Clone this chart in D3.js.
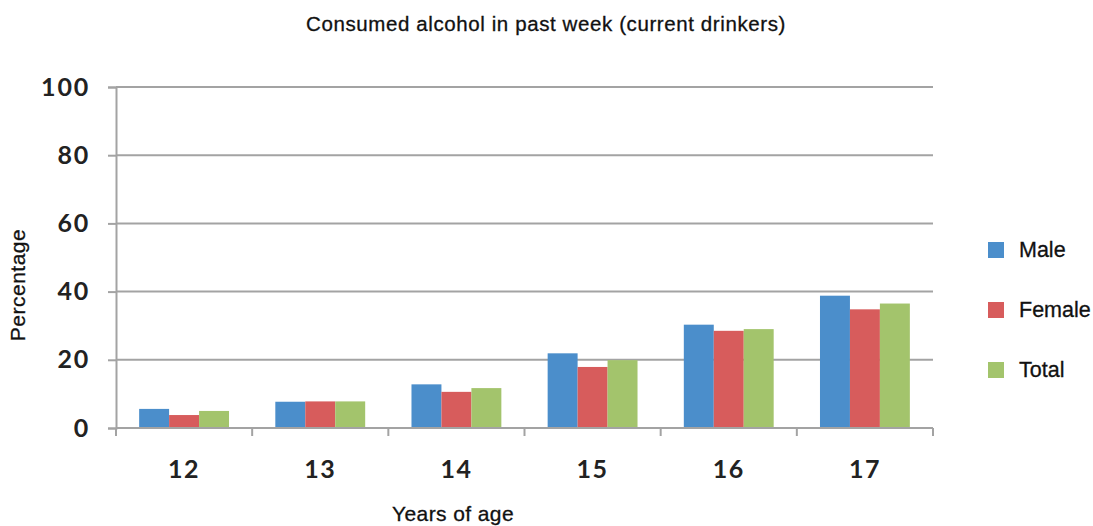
<!DOCTYPE html>
<html><head><meta charset="utf-8">
<script src="https://cdn.jsdelivr.net/npm/d3@7"></script>
<style>body{margin:0;background:#fff}svg{display:block}</style>
</head><body>
<svg id="c" width="1093" height="526"></svg>
<script>
const categories = ["12","13","14","15","16","17"];
const seriesNames = ["Male","Female","Total"];
const male   = [5.6, 7.7, 12.8, 21.9, 30.3, 38.8];
const female = [3.8, 7.8, 10.6, 17.9, 28.5, 34.8];
const total  = [5.0, 7.8, 11.7, 19.9, 29.0, 36.5];
const yTicks = [0,20,40,60,80,100];
const colors = ["#4b8ecb","#d75c5c","#a3c46c"];
const title = "Consumed alcohol in past week (current drinkers)";
const xTitle = "Years of age";
const yTitle = "Percentage";

const values = [male, female, total];
const svg = d3.select("#c");
const L = 116, R = 933, T = 87, B = 428;
const x = d3.scaleBand().domain(categories).range([L, R]).paddingInner(0.34).paddingOuter(0.17);
const xs = d3.scaleBand().domain(seriesNames).range([0, x.bandwidth()]);
const y = d3.scaleLinear().domain([0,100]).range([B, T]);
const grid = "#a3a3a3";
const labFont = "'Liberation Sans', Arial, sans-serif";
const tickFont = "Lato, 'Open Sans', sans-serif";

// gridlines
svg.append("g").selectAll("line").data(yTicks.filter(d=>d>0)).join("line")
  .attr("x1", L).attr("x2", R).attr("y1", d=>y(d)).attr("y2", d=>y(d))
  .attr("stroke", grid).attr("stroke-width", 2);

// y axis
const ya = svg.append("g").attr("transform", `translate(${L},0)`)
  .call(d3.axisLeft(y).tickValues(yTicks).tickSize(8).tickPadding(18));
ya.select(".domain").attr("stroke", grid).attr("stroke-width", 2);
ya.selectAll(".tick line").attr("stroke", grid).attr("stroke-width", 2);
ya.selectAll("text").attr("font-family", tickFont).attr("font-weight","bold")
  .attr("font-size", 25).attr("letter-spacing", 1.8).attr("fill","#222");

// bars
const g = svg.append("g");
categories.forEach((c, i) => {
  seriesNames.forEach((s, j) => {
    g.append("rect").attr("x", x(c) + xs(s)).attr("width", xs.bandwidth())
      .attr("y", y(values[j][i])).attr("height", B - y(values[j][i])).attr("fill", colors[j]);
  });
});

// x axis
const step = (R - L) / categories.length;
const xa = svg.append("g").attr("transform", `translate(0,${B})`);
xa.append("line").attr("x1", L).attr("x2", R).attr("stroke", grid).attr("stroke-width", 2);
xa.selectAll("line.t").data(d3.range(categories.length + 1)).join("line").attr("class","t")
  .attr("x1", d=>L + d*step).attr("x2", d=>L + d*step).attr("y1", 0).attr("y2", 8)
  .attr("stroke", grid).attr("stroke-width", 2);
xa.selectAll("text").data(categories).join("text")
  .attr("x", d=>x(d) + x.bandwidth()/2).attr("y", 50).attr("text-anchor","middle")
  .attr("font-family", tickFont).attr("font-weight","bold")
  .attr("font-size", 25).attr("letter-spacing", 1.5).attr("fill","#222").text(d=>d);

// titles
svg.append("text").attr("x", 546).attr("y", 31).attr("text-anchor","middle")
  .attr("font-family", labFont).attr("font-size", 20.5).attr("letter-spacing", 0.6).attr("fill","#111")
  .attr("stroke","#111").attr("stroke-width",0.3).text(title);
svg.append("text").attr("x", 453).attr("y", 521).attr("text-anchor","middle")
  .attr("font-family", labFont).attr("font-size", 21).attr("letter-spacing", 0.4).attr("fill","#111")
  .attr("stroke","#111").attr("stroke-width",0.3).text(xTitle);
svg.append("text").attr("transform","translate(25,285) rotate(-90)").attr("text-anchor","middle")
  .attr("font-family", labFont).attr("font-size", 21).attr("letter-spacing", 0.5).attr("fill","#111")
  .attr("stroke","#111").attr("stroke-width",0.3).text(yTitle);

// legend
const lg = svg.append("g");
seriesNames.forEach((s, j) => {
  const cy = 250 + j*60;
  lg.append("rect").attr("x", 988).attr("y", cy - 8).attr("width", 16).attr("height", 16).attr("fill", colors[j]);
  lg.append("text").attr("x", 1019).attr("y", cy + 7).attr("font-family", labFont)
    .attr("font-size", 21.5).attr("fill","#111").attr("stroke","#111").attr("stroke-width",0.3).text(s);
});
</script>
</body></html>
